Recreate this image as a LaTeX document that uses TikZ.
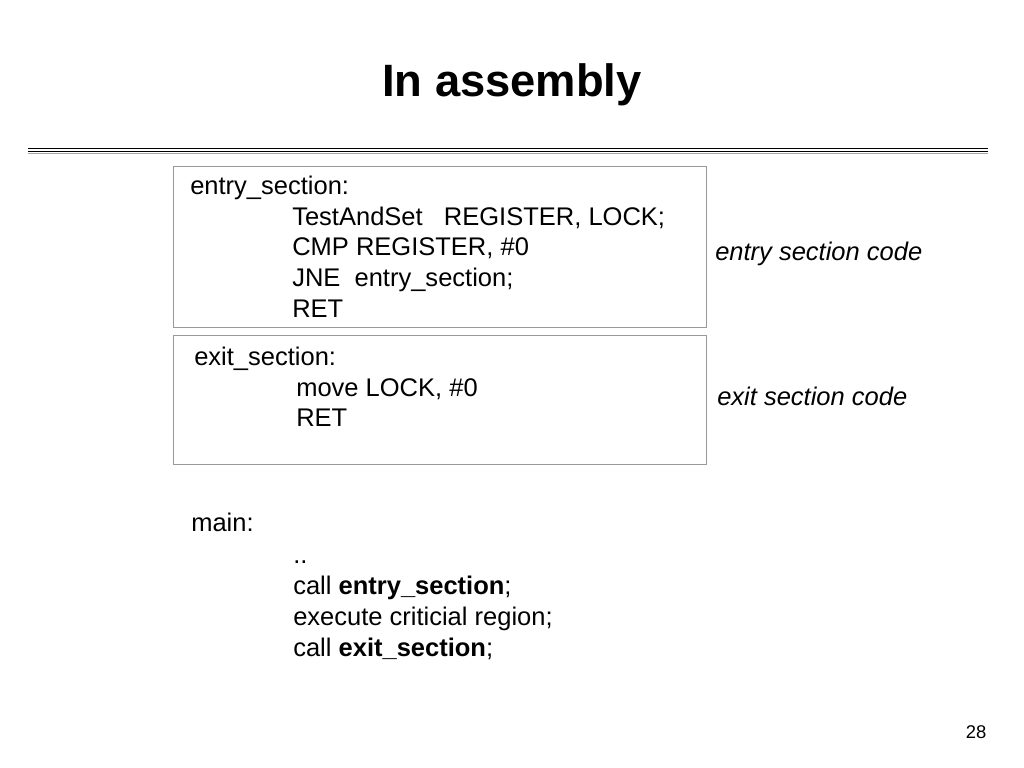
\documentclass[tikz,border=0pt]{standalone}
\usepackage{fontspec}
\setmainfont{Liberation Sans}
\usetikzlibrary{positioning}

\begin{document}
\begin{tikzpicture}[x=0.24805mm,y=-0.24805mm,
  every node/.style={inner sep=0pt,anchor=base west},
  code/.style={font=\fontsize{18}{21.6}\selectfont},
  note/.style={font=\fontsize{18}{21.6}\selectfont\itshape},
  codebox/.style={draw=black!40,line width=0.7pt}]
  \useasboundingbox (0,0) rectangle (1024,768);
  \node[anchor=base,font=\fontsize{32}{38}\selectfont\bfseries] (title) at (512,97) {In assembly};
  \draw[line width=1.4pt] (28,148.5) -- (988,148.5);
  \draw[line width=0.9pt] (28,151.3) -- (988,151.3);
  \draw[line width=0.6pt,black!35] (28,153) -- (988,153);

  % entry section
  \draw[codebox] (173,166) rectangle (706,327);
  \node[code] (en0) at (190,194.5) {entry\_section:};
  \node[code] (en1) at (292,225)   {TestAndSet\ \ \ REGISTER, LOCK;};
  \node[code] (en2) at (292,255.7) {CMP REGISTER, \#0};
  \node[code] (en3) at (292,286.3) {JNE\ \ entry\_section;};
  \node[code] (en4) at (292,317)   {RET};
  \node[note] (ennote) at (715,260) {entry section code};

  % exit section
  \draw[codebox] (173,335) rectangle (706,464);
  \node[code] (ex0) at (194,365)   {exit\_section:};
  \node[code] (ex1) at (296,396)   {move LOCK, \#0};
  \node[code] (ex2) at (296,426.7) {RET};
  \node[note] (exnote) at (717,405) {exit section code};

  % main
  \node[code] (m0) at (191,531.7) {main:};
  \node[code] (m1) at (293,563)   {..};
  \node[code] (m2) at (293,594)   {call \textbf{entry\_section};};
  \node[code] (m3) at (293,625)   {execute criticial region;};
  \node[code] (m4) at (293,656)   {call \textbf{exit\_section};};

  \node[anchor=base,font=\fontsize{13}{15}\selectfont] (page) at (976,738) {28};
\end{tikzpicture}
\end{document}
